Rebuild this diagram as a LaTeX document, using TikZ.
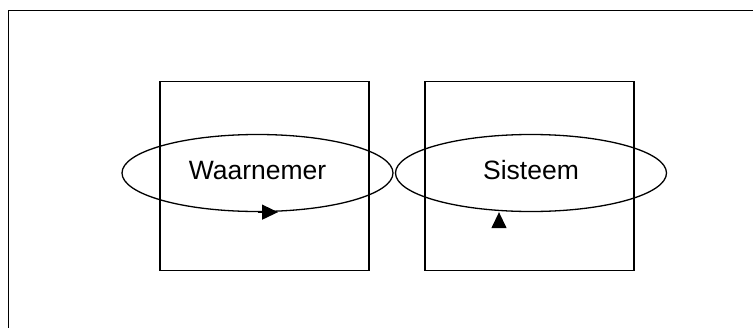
\documentclass[tikz,border=0pt]{standalone}
\usepackage{fontspec}
\setmainfont{Liberation Sans}
\usetikzlibrary{arrows.meta,calc,shapes.geometric}

\begin{document}
\begin{tikzpicture}[
  x=1pt, y=-1pt,
  frame/.style={line width=1.2pt, black},
  bbox/.style={rectangle, draw, line width=1.3pt, minimum width=209pt, minimum height=189pt, inner sep=0pt},
  enode/.style={ellipse, draw, line width=1.3pt, minimum width=271pt, minimum height=77pt, inner sep=0pt,
    font=\fontsize{26.5}{30}\selectfont, text depth=6pt},
  tip/.style={-{Triangle[length=16pt, width=15pt]}, line width=1.3pt},
]
\clip (0,0) rectangle (753,327);

% ─── Outer frame ───
\draw[frame] (8.5,340) |- (770,10.5);

% ─── Boxes ───
\node[bbox] (lbox) at (264.5,176) {};
\node[bbox] (rbox) at (529.5,176) {};

% ─── Ellipses ───
\node[enode] (waar) at (257.5,173) {Waarnemer};
\node[enode] (sis) at (531,173) {Sisteem};

% Arrow heads on the loops
\draw[tip] (waar.south) -- ($(waar.south)+(20.5,0)$);
\coordinate (sisup) at ($(sis.south)+(-32,15)$);
\draw[tip] (sisup) -- (sisup |- sis.south);

\end{tikzpicture}
\end{document}
